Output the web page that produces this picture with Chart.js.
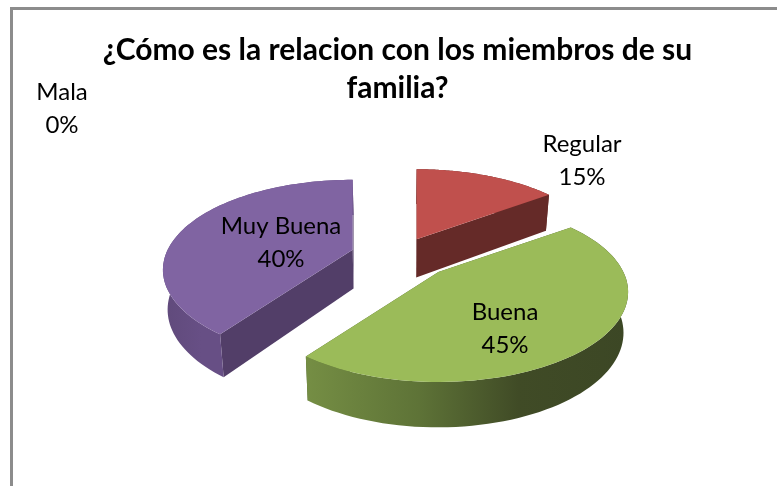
<!DOCTYPE html>
<html>
<head>
<meta charset="utf-8">
<style>
html,body{margin:0;padding:0;background:#fff;}
#wrap{position:relative;width:777px;height:486px;}
</style>
<script src="https://cdn.jsdelivr.net/npm/chart.js@4"></script>
</head>
<body>
<div id="wrap"><canvas id="c" width="777" height="486"></canvas></div>
<script>
const categories = ['Mala', 'Regular', 'Buena', 'Muy Buena'];
const values = [0, 15, 45, 40];
const topColors = ['#4BACC6', '#C0504D', '#9BBB59', '#8064A2'];
const sideColors = ['#2F6B7C', '#652A28', '#4C5F2C', '#523E68'];
const titleLines = ['¿Cómo es la relacion con los miembros de su', 'familia?'];

const FONT = 'Lato, Carlito, Calibri, sans-serif';

const pie3d = {
  id: 'pie3d',
  beforeDraw(chart, args, o) {
    const c = chart.ctx;
    c.save();
    c.fillStyle = o.frameColor;
    c.fillRect(o.frameLeft, o.frameTop, chart.width - o.frameLeft, o.frameWidth);
    c.fillRect(o.frameLeft, o.frameTop, o.frameWidth, chart.height - o.frameTop);
    c.restore();
  },
  beforeDatasetDraw(chart, args, o) {
    const c = chart.ctx;
    const arcs = chart.getDatasetMeta(args.index).data;
    const local = (r, a, R) => {
      const u = r * Math.cos(a), v = r * Math.sin(a);
      const s = 1 / (1 - o.persp * v);
      return { x: R * u * s, y: R * o.tilt * v * s };
    };
    const drop = (p, cx) => ({
      x: cx + (p.x - cx) * o.shrink,
      y: p.y + o.depthBase + o.depthSlope * (p.y - o.depthRef)
    });
    const order = [1, 3, 2];
    order.forEach(i => {
      const el = arcs[i];
      const R = el.outerRadius;
      const off = el.options.offset / R;
      const mid = (el.startAngle + el.endAngle) / 2;
      const l0 = local(off, mid, R);
      const apex = { x: el.x + l0.x + o.nudge[i][0], y: el.y + l0.y + o.nudge[i][1] };
      const rim = [];
      const n = 80;
      for (let k = 0; k <= n; k++) {
        const a = el.startAngle + (el.endAngle - el.startAngle) * k / n;
        const l = local(1, a, R);
        rim.push({ x: apex.x + l.x, y: apex.y + l.y });
      }
      const low = rim.map(p => drop(p, el.x));
      const xs = rim.map(p => p.x);
      const grad = c.createLinearGradient(Math.min(...xs), 0, Math.max(...xs), 0);
      o.wallStops[i].forEach(s => grad.addColorStop(s[0], s[1]));
      // radial walls
      const apexLow = drop(apex, el.x);
      [[rim[0], low[0]], [rim[n], low[n]]].forEach(([a, b]) => {
        c.beginPath();
        c.moveTo(apex.x, apex.y);
        c.lineTo(a.x, a.y);
        c.lineTo(b.x, b.y);
        c.lineTo(apexLow.x, apexLow.y);
        c.closePath();
        c.fillStyle = sideColors[i];
        c.fill();
      });
      // outer curved wall
      c.beginPath();
      rim.forEach((p, k) => k ? c.lineTo(p.x, p.y) : c.moveTo(p.x, p.y));
      low.slice().reverse().forEach(p => c.lineTo(p.x, p.y));
      c.closePath();
      c.fillStyle = grad;
      c.fill();
      // top face
      c.beginPath();
      c.moveTo(apex.x, apex.y);
      rim.forEach(p => c.lineTo(p.x, p.y));
      c.closePath();
      c.fillStyle = el.options.backgroundColor;
      c.fill();
    });
    return false;
  },
  afterDatasetsDraw(chart, args, o) {
    const c = chart.ctx;
    const total = values.reduce((a, b) => a + b, 0);
    c.save();
    c.fillStyle = '#000';
    c.font = o.labelSize + 'px ' + FONT;
    c.textAlign = 'center';
    c.textBaseline = 'middle';
    categories.forEach((name, i) => {
      const p = o.labelAt[i];
      c.fillText(name, p[0], p[1]);
      c.fillText(Math.round(values[i] / total * 100) + '%', p[0], p[1] + o.labelGap);
    });
    c.restore();
  }
};

new Chart(document.getElementById('c'), {
  type: 'pie',
  plugins: [pie3d],
  data: {
    labels: categories,
    datasets: [{
      data: values,
      backgroundColor: topColors,
      borderWidth: 0,
      offset: [0, 44, 48, 48],
      radius: 185
    }]
  },
  options: {
    responsive: false,
    animation: false,
    layout: { padding: { left: 18, right: 0, top: 31, bottom: 80 } },
    plugins: {
      legend: { display: false },
      tooltip: { enabled: false },
      title: {
        display: true,
        text: titleLines,
        color: '#000',
        font: { family: FONT, size: 30, weight: 'bold', lineHeight: 1.27 },
        padding: 0
      },
      pie3d: {
        persp: 0.222, tilt: 0.4627, shrink: 0.98,
        depthBase: 36, depthSlope: 0.05, depthRef: 195,
        nudge: [[0, 0], [0, 0], [5.5, -1], [0, 0]],
        frameColor: '#8C8C8C', frameLeft: 10, frameTop: 7, frameWidth: 3,
        labelSize: 24, labelGap: 33,
        labelAt: [[62, 92], [582, 144], [505, 312], [281, 226]],
        wallStops: [
          [[0, '#2F6B7C'], [1, '#2F6B7C']],
          [[0, '#652A28'], [1, '#652A28']],
          [[0, '#758E44'], [0.35, '#5E7337'], [0.66, '#404B26'], [1, '#3C4725']],
          [[0, '#604A7B'], [0.2, '#674F85'], [1, '#674F85']]
        ]
      }
    }
  }
});
</script>
</body>
</html>
